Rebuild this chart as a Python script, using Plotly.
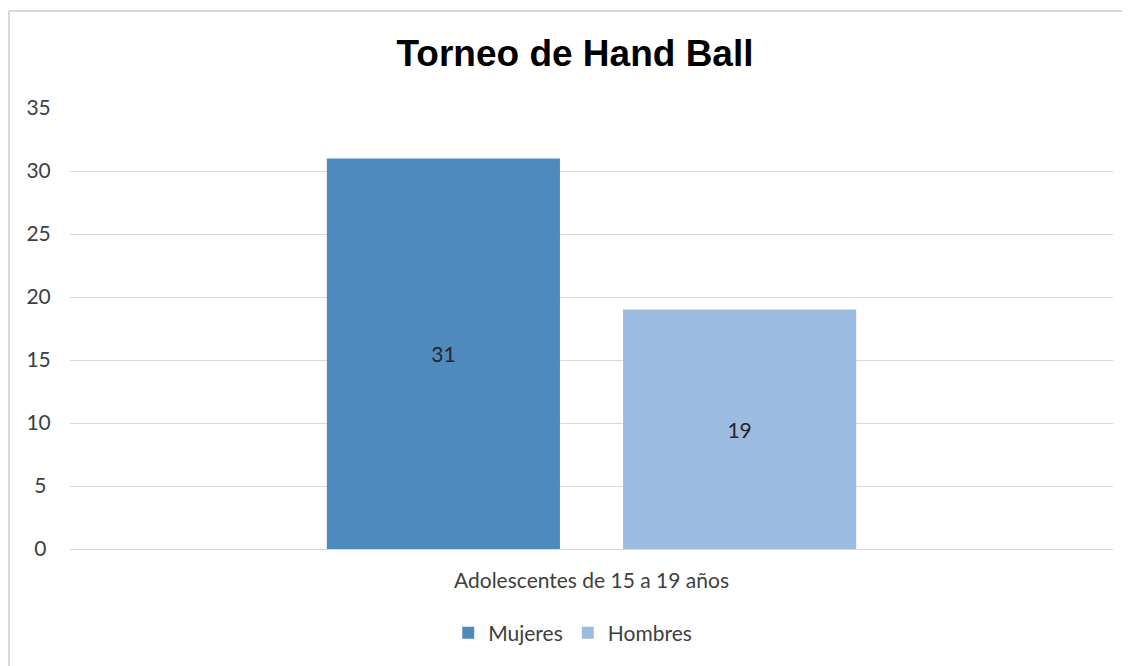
import plotly.graph_objects as go

categories = ["Adolescentes de 15 a 19 años"]
series_names = ["Mujeres", "Hombres"]
mujeres = [31]
hombres = [19]
y_ticks = [0, 5, 10, 15, 20, 25, 30, 35]
y_ticktext = ["0\u2008", "5\u2008", "10", "15", "20", "25", "30", "35"]
title_text = "Torneo de Hand Ball"

colors = ["#4F8ABE", "#9BBBE0"]
font_fam = "Lato"
text_col = "#404040"

# page offset (browser body margin); figure sized to fit the visible window
OFF = 8
W, H = 1130 - OFF, 666 - OFF
L, T = 70 - OFF, 108 - OFF
R_EDGE, B_EDGE = 1113 - OFF, 549 - OFF
PW, PH = R_EDGE - L, B_EDGE - T

fig = go.Figure()
for name, vals, col in zip(series_names, [mujeres, hombres], colors):
    fig.add_trace(go.Bar(
        x=categories, y=vals, name=name,
        marker=dict(color=col, line=dict(width=0)),
        text=[str(v) for v in vals], textposition="inside",
        insidetextanchor="middle", textangle=0,
        textfont=dict(family=font_fam, size=21, color="#262626"),
    ))

fig.update_layout(
    width=W, height=H,
    margin=dict(l=L, r=W - R_EDGE, t=T, b=H - B_EDGE),
    paper_bgcolor="white", plot_bgcolor="white",
    barmode="group", bargap=0.432, bargroupgap=0.213,
    title=dict(text=title_text, x=(575 - OFF) / W, xref="container", xanchor="center",
               y=1 - (53 - OFF) / H, yref="container", yanchor="middle",
               font=dict(family="Liberation Sans", size=37, color="black", weight="bold")),
    showlegend=True,
    legend=dict(orientation="h", x=0.482, xanchor="center", y=(B_EDGE - (633 - OFF)) / PH,
                yanchor="middle",
                font=dict(family=font_fam, size=21, color=text_col),
                itemsizing="constant", traceorder="normal"),
    font=dict(family=font_fam, size=21, color=text_col),
)
fig.update_yaxes(range=[0, 35], tickvals=y_ticks, ticktext=y_ticktext,
                 showgrid=True, gridcolor="#D9D9D9", gridwidth=1.3,
                 zeroline=False, showline=False,
                 ticks="outside", ticklen=14, tickcolor="rgba(0,0,0,0)",
                 tickfont=dict(family=font_fam, size=21, color=text_col))
fig.update_xaxes(showgrid=False, showline=True, linecolor="#D9D9D9", linewidth=1.3,
                 ticks="outside", ticklen=13, tickcolor="rgba(0,0,0,0)",
                 tickfont=dict(family=font_fam, size=21, color=text_col))

# chart-area border (top and left edges visible in the frame)
bx0 = (1 - L) / PW
bx1 = (W - L) / PW
by0 = (B_EDGE - H) / PH
by1 = (B_EDGE - (11 - OFF)) / PH
for x0, y0, x1, y1 in [(bx0, by1, bx1, by1), (bx0, by0, bx0, by1)]:
    fig.add_shape(type="line", xref="paper", yref="paper",
                  x0=x0, y0=y0, x1=x1, y1=y1,
                  line=dict(color="#D9D9D9", width=2), layer="below")

fig.write_html("out.html", config={"displayModeBar": False})
